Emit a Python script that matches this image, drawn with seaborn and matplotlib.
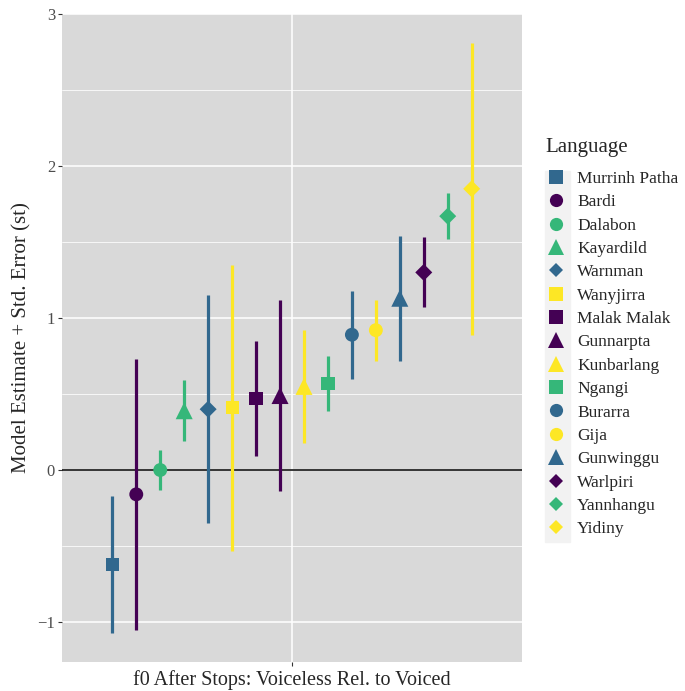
import matplotlib

matplotlib.use("Agg")
import matplotlib.pyplot as plt
import numpy as np
import pandas as pd
import seaborn as sns
from matplotlib.lines import Line2D
from matplotlib.patches import Rectangle

# values
languages = ["Murrinh Patha", "Bardi", "Dalabon", "Kayardild", "Warnman", "Wanyjirra",
             "Malak Malak", "Gunnarpta", "Kunbarlang", "Ngangi", "Burarra", "Gija",
             "Gunwinggu", "Warlpiri", "Yannhangu", "Yidiny"]
estimates = [-0.62, -0.16, 0.00, 0.39, 0.40, 0.41, 0.47, 0.49, 0.55, 0.57, 0.89, 0.92,
             1.13, 1.30, 1.67, 1.85]
std_errors = [0.45, 0.89, 0.13, 0.20, 0.75, 0.94, 0.38, 0.63, 0.37, 0.18, 0.29, 0.20,
              0.41, 0.23, 0.15, 0.96]
colour_groups = ["blue", "purple", "green", "green", "blue", "yellow", "purple", "purple",
                 "yellow", "green", "blue", "yellow", "blue", "purple", "green", "yellow"]
shape_groups = ["square", "circle", "circle", "triangle", "diamond", "square", "square",
                "triangle", "triangle", "square", "circle", "circle", "triangle", "diamond",
                "diamond", "diamond"]
condition = "f0 After Stops: Voiceless Rel. to Voiced"

viridis4 = {"purple": "#440154", "blue": "#31688E", "green": "#35B779", "yellow": "#FDE725"}
marker_map = {"square": "s", "circle": "o", "triangle": "^", "diamond": "D"}
scatter_size = {"square": 90, "circle": 100, "triangle": 150, "diamond": 75}
legend_size = {"square": 9.5, "circle": 9.5, "triangle": 12, "diamond": 7}

df = pd.DataFrame({"language": languages, "estimate": estimates, "se": std_errors,
                   "colour": colour_groups, "shape": shape_groups})
df["pos"] = np.arange(len(df)) - (len(df) - 1) / 2  # dodge within the single condition
df["lo"] = df["estimate"] - df["se"]
df["hi"] = df["estimate"] + df["se"]
palette = {l: viridis4[c] for l, c in zip(df["language"], df["colour"])}
markers = {l: marker_map[s] for l, s in zip(df["language"], df["shape"])}

sns.set_theme(style="darkgrid")
plt.rcParams["font.family"] = ["Liberation Serif", "DejaVu Serif"]

fig = plt.figure(figsize=(6.85, 6.91), dpi=100)
ax = fig.add_axes([62 / 685, 1 - 662 / 691, 460 / 685, 648 / 691])
ax.set_facecolor("#D9D9D9")

ax.axhline(0, color="black", lw=1.1, zorder=1.5)
ax.vlines(df["pos"], df["lo"], df["hi"], colors=df["language"].map(palette), lw=2.3, zorder=2)
sns.scatterplot(data=df, x="pos", y="estimate", hue="language", style="language",
                palette=palette, markers=markers, hue_order=languages,
                s=df["shape"].map(scatter_size).to_numpy(), linewidth=0, legend=False,
                ax=ax, zorder=3)

ax.set_xlim(-9.6, 9.6)
ax.set_ylim(-1.263, 3.0)
ax.set_xticks([0])
ax.set_xticklabels([])
ax.set_yticks([-1, 0, 1, 2, 3])
ax.set_yticklabels(["\u22121", "0", "1", "2", "3"])
ax.set_yticks([-0.5, 0.5, 1.5, 2.5], minor=True)
ax.grid(which="major", color="white", lw=1.1)
ax.grid(which="minor", axis="y", color="white", lw=0.55)
ax.tick_params(axis="both", which="major", length=3, width=0.8, color="#333333",
               labelsize=12, labelcolor="#4D4D4D", pad=2, left=True, bottom=True)
ax.tick_params(axis="both", which="minor", length=0)
for sp in ax.spines.values():
    sp.set_visible(False)
ax.set_xlabel(condition, fontsize=14.5, labelpad=1)
ax.set_ylabel("Model Estimate + Std. Error (st)", fontsize=15, labelpad=4)

# legend, one key per language
handles = [Line2D([], [], linestyle="none", marker=marker_map[s], color=viridis4[c],
                  markersize=legend_size[s], markeredgewidth=0)
           for c, s in zip(df["colour"], df["shape"])]
fig.patches.append(Rectangle((545 / 685, 1 - 542 / 691), 25 / 685, 371 / 691,
                             transform=fig.transFigure, color="#F2F2F2", zorder=0))
leg = fig.legend(handles, languages, title="Language", loc="upper left",
                 bbox_to_anchor=(538 / 685, 1 - 131 / 691), frameon=False,
                 fontsize=12.5, title_fontsize=15, handlelength=1.3, handletextpad=0.55,
                 labelspacing=0.415, borderaxespad=0)
leg._legend_box.align = "left"
leg._legend_box.sep = 10

fig.savefig("out.png", dpi=100)
